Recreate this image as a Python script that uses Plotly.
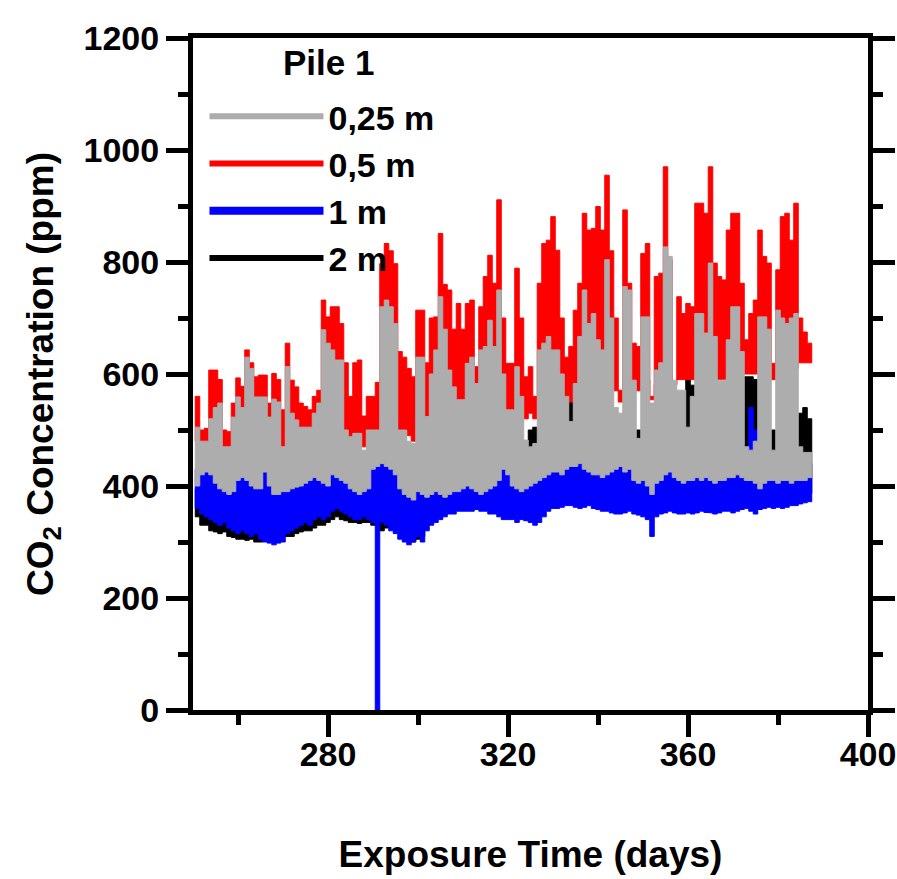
import plotly.graph_objects as go

days = list(range(251, 388))

# 0,25 m (gray) daily max / min
gray_max = [505, 480, 480, 520, 540, 548, 470, 470, 523, 559,
            540, 630, 610, 559, 559, 559, 523, 555, 550, 470,
            613, 530, 518, 505, 505, 505, 530, 548, 679, 655,
            643, 625, 625, 500, 488, 494, 494, 464, 500, 500,
            500, 720, 732, 720, 690, 500, 500, 480, 476, 630,
            630, 524, 600, 643, 738, 680, 607, 577, 554, 554,
            619, 630, 583, 643, 649, 696, 649, 750, 600, 536,
            536, 613, 560, 482, 470, 476, 643, 655, 667, 643,
            643, 600, 560, 515, 583, 667, 750, 690, 708, 661,
            643, 804, 700, 540, 530, 756, 750, 589, 485, 702,
            702, 548, 607, 620, 827, 810, 589, 571, 571, 505,
            560, 708, 708, 673, 798, 667, 589, 589, 661, 720,
            720, 640, 470, 464, 480, 702, 702, 680, 464, 714,
            700, 690, 700, 708, 470, 460, 460]
gray_min = [400, 420, 425, 420, 405, 395, 390, 385, 390, 410,
            415, 410, 400, 395, 395, 425, 400, 385, 385, 390,
            390, 395, 398, 400, 405, 410, 415, 410, 405, 400,
            420, 415, 410, 405, 395, 390, 385, 390, 395, 430,
            435, 440, 435, 430, 420, 395, 385, 380, 375, 390,
            385, 380, 385, 390, 385, 380, 385, 390, 390, 395,
            400, 395, 390, 385, 390, 395, 400, 410, 430, 420,
            400, 395, 390, 395, 400, 405, 410, 415, 420, 425,
            425, 420, 430, 435, 435, 440, 430, 425, 420, 420,
            415, 420, 425, 430, 435, 425, 430, 410, 405, 410,
            400, 385, 405, 410, 420, 425, 415, 410, 405, 410,
            410, 415, 410, 415, 410, 405, 410, 410, 415, 415,
            420, 415, 410, 410, 405, 395, 405, 410, 410, 405,
            410, 410, 405, 410, 410, 410, 415]

# 0,5 m (red)
red_max = [560, 500, 503, 607, 607, 590, 500, 497, 548, 593,
           578, 643, 620, 595, 598, 598, 548, 601, 590, 536,
           655, 589, 577, 548, 542, 536, 560, 571, 732, 702,
           720, 720, 690, 620, 560, 620, 625, 525, 560, 560,
           585, 797, 833, 820, 797, 640, 630, 610, 595, 714,
           714, 620, 700, 702, 851, 760, 750, 680, 726, 680,
           726, 732, 613, 720, 774, 812, 762, 911, 700, 619,
           619, 789, 700, 595, 613, 560, 762, 833, 839, 881,
           821, 700, 630, 649, 714, 762, 887, 857, 860, 899,
           857, 955, 820, 700, 571, 893, 762, 655, 649, 815,
           833, 554, 774, 780, 970, 804, 583, 738, 708, 726,
           720, 905, 905, 887, 970, 798, 774, 768, 857, 887,
           887, 762, 661, 708, 732, 857, 810, 798, 619, 786,
           881, 887, 839, 905, 700, 675, 655]
red_min = [480, 470, 470, 480, 490, 480, 470, 470, 480, 490,
           490, 500, 500, 490, 490, 490, 480, 490, 490, 470,
           500, 490, 490, 480, 480, 480, 490, 490, 520, 520,
           520, 520, 510, 490, 480, 480, 490, 470, 480, 480,
           490, 520, 530, 530, 520, 500, 500, 490, 480, 510,
           510, 500, 510, 520, 540, 530, 520, 510, 520, 510,
           520, 530, 520, 530, 540, 550, 540, 560, 540, 530,
           530, 550, 540, 520, 530, 520, 560, 570, 570, 580,
           570, 560, 550, 550, 560, 570, 590, 580, 580, 590,
           580, 600, 590, 570, 550, 590, 580, 570, 570, 590,
           590, 560, 580, 580, 600, 600, 580, 590, 590, 590,
           590, 600, 600, 600, 610, 600, 590, 590, 600, 600,
           600, 600, 600, 600, 600, 610, 610, 610, 590, 600,
           610, 610, 610, 610, 620, 620, 620]

# 1 m (blue)
blue_max = [430, 440, 445, 440, 430, 420, 415, 410, 415, 430,
            440, 435, 425, 420, 420, 445, 425, 410, 410, 415,
            415, 420, 420, 425, 430, 435, 440, 435, 430, 425,
            445, 440, 435, 430, 420, 415, 410, 415, 420, 450,
            455, 460, 455, 450, 445, 420, 410, 405, 400, 415,
            410, 405, 410, 415, 410, 405, 410, 415, 415, 420,
            425, 420, 415, 410, 415, 420, 425, 435, 455, 445,
            425, 420, 415, 420, 425, 430, 435, 440, 445, 450,
            450, 445, 455, 460, 460, 465, 455, 450, 445, 445,
            440, 445, 450, 455, 460, 450, 455, 435, 430, 435,
            425, 410, 430, 435, 445, 450, 440, 435, 430, 435,
            435, 440, 435, 440, 435, 430, 435, 435, 440, 440,
            445, 440, 470, 540, 500, 420, 430, 435, 435, 430,
            435, 435, 430, 435, 435, 435, 440]
blue_min = [360, 350, 345, 340, 335, 330, 335, 325, 320, 315,
            320, 315, 310, 315, 305, 300, 298, 295, 298, 300,
            315, 320, 325, 330, 335, 330, 340, 345, 340, 345,
            355, 360, 355, 350, 345, 340, 340, 345, 340, 335,
            0, 335, 330, 320, 315, 305, 300, 295, 300, 310,
            300, 320, 330, 335, 340, 345, 350, 350, 355, 355,
            355, 355, 358, 355, 355, 350, 350, 345, 340, 340,
            340, 335, 340, 338, 335, 330, 335, 345, 355, 360,
            360, 362, 365, 365, 362, 360, 362, 365, 360, 358,
            355, 355, 352, 350, 350, 352, 355, 350, 348, 345,
            340, 310, 345, 350, 352, 355, 352, 350, 350, 352,
            350, 352, 355, 353, 352, 350, 352, 355, 355, 352,
            355, 358, 360, 355, 350, 358, 360, 362, 360, 362,
            360, 362, 365, 365, 368, 370, 372]

# 2 m (black)
black_max = [395, 400, 405, 400, 395, 390, 385, 385, 390, 400,
             400, 395, 390, 385, 385, 395, 390, 380, 380, 385,
             385, 390, 390, 395, 400, 400, 405, 400, 400, 400,
             410, 405, 400, 395, 390, 385, 380, 385, 390, 410,
             420, 425, 420, 415, 410, 395, 385, 380, 375, 385,
             385, 380, 385, 390, 385, 385, 390, 395, 395, 400,
             405, 400, 400, 395, 400, 405, 410, 415, 430, 425,
             420, 415, 420, 470, 500, 505, 420, 425, 430, 435,
             435, 440, 450, 560, 450, 445, 440, 435, 430, 435,
             430, 435, 440, 445, 450, 445, 450, 460, 500, 450,
             440, 470, 440, 445, 450, 455, 450, 540, 560, 590,
             580, 450, 450, 455, 450, 445, 450, 455, 455, 460,
             460, 470, 595, 595, 590, 560, 470, 480, 500, 470,
             470, 470, 470, 475, 530, 540, 520]
black_min = [345, 330, 330, 320, 318, 315, 318, 310, 308, 305,
             305, 303, 305, 300, 300, 305, 305, 310, 310, 310,
             310, 310, 315, 318, 320, 320, 325, 330, 330, 335,
             340, 345, 340, 338, 335, 335, 333, 335, 335, 330,
             330, 320, 325, 330, 330, 320, 310, 305, 300, 305,
             310, 330, 345, 350, 355, 360, 365, 365, 365, 370,
             370, 370, 372, 370, 370, 365, 365, 360, 355, 355,
             355, 350, 355, 353, 350, 345, 350, 360, 370, 375,
             375, 377, 380, 380, 377, 375, 377, 380, 375, 373,
             370, 370, 368, 365, 365, 368, 370, 365, 363, 360,
             355, 350, 360, 365, 368, 370, 368, 365, 365, 368,
             365, 368, 370, 368, 368, 365, 368, 370, 370, 368,
             370, 372, 375, 370, 365, 372, 375, 378, 375, 378,
             375, 378, 380, 380, 383, 385, 387]

series_names = ["0,25 m", "0,5 m", "1 m", "2 m"]
series_colors = ["#adadad", "#ff0000", "#0000ff", "#000000"]
legend_widths = [6, 6, 8, 6]

FONT = "Liberation Sans, Arial, sans-serif"


def band(lo, hi):
    """Daily min-max envelope as a stepped closed outline."""
    xs, ys = [], []
    for d, h in zip(days, hi):
        xs += [d - 0.5, d + 0.5]
        ys += [h, h]
    for d, l in zip(reversed(days), reversed(lo)):
        xs += [d + 0.5, d - 0.5]
        ys += [l, l]
    xs.append(xs[0])
    ys.append(ys[0])
    return xs, ys


fig = go.Figure()

# draw order: 2 m, 0,5 m, 1 m, 0,25 m (gray on top)
draw = [(3, black_min, black_max), (1, red_min, red_max),
        (2, blue_min, blue_max), (0, gray_min, gray_max)]
for idx, lo, hi in draw:
    xs, ys = band(lo, hi)
    fig.add_trace(go.Scatter(x=xs, y=ys, mode="lines", fill="toself",
                             fillcolor=series_colors[idx],
                             line=dict(color=series_colors[idx], width=1),
                             showlegend=False, hoverinfo="skip"))

for i, name in enumerate(series_names):
    fig.add_trace(go.Scatter(x=[None], y=[None], mode="lines", name=name,
                             line=dict(color=series_colors[i], width=legend_widths[i]),
                             showlegend=True))

axis_font = dict(family=FONT, size=34, color="black", weight="bold")
title_font = dict(family=FONT, size=37, color="black", weight="bold")

fig.update_xaxes(range=[250, 400], tickvals=[280, 320, 360, 400],
                 ticks="outside", ticklen=22, tickwidth=5, tickcolor="black",
                 showline=True, linewidth=5, linecolor="black", mirror=True,
                 showgrid=False, zeroline=False, tickfont=axis_font,
                 ticklabelstandoff=-12, automargin=False, ticklabeloverflow="allow",
                 minor=dict(tickvals=[260, 300, 340, 380], ticks="outside",
                            ticklen=10, tickwidth=5, tickcolor="black", showgrid=False),
                 title=dict(text="Exposure Time (days)", font=title_font, standoff=71))
fig.update_yaxes(range=[0, 1200], tickvals=[0, 200, 400, 600, 800, 1000, 1200],
                 ticks="outside", ticklen=22, tickwidth=5, tickcolor="black",
                 showline=True, linewidth=5, linecolor="black", mirror="ticks",
                 showgrid=False, zeroline=False, tickfont=axis_font, automargin=False,
                 ticklabeloverflow="allow",
                 minor=dict(tickvals=[100, 300, 500, 700, 900, 1100], ticks="outside",
                            ticklen=10, tickwidth=5, tickcolor="black", showgrid=False),
                 title=dict(text="CO<sub>2</sub> Concentration (ppm)", font=title_font, standoff=20))

fig.add_annotation(text="Pile 1", xref="paper", yref="paper", x=0.2, y=0.963,
                   xanchor="center", yanchor="middle", showarrow=False,
                   font=dict(family=FONT, size=35, color="black", weight="bold"))

fig.update_layout(
    width=897, height=879,
    margin=dict(l=193, r=29, t=38, b=169),
    plot_bgcolor="white", paper_bgcolor="white",
    legend=dict(x=0.017, y=0.926, xanchor="left", yanchor="top",
                bgcolor="rgba(0,0,0,0)", itemwidth=114,
                font=dict(family=FONT, size=34, color="black", weight="bold"),
                tracegroupgap=0),
)

# remove the browser's default 8 px page margin so the figure fills the window
fig.write_html("out.html", config={"displayModeBar": False},
               post_script="document.body.style.margin='0';document.body.style.overflow='hidden';")
